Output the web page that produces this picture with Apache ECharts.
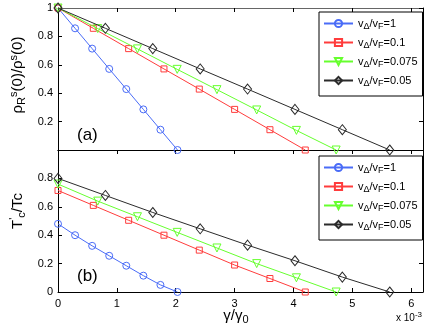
<!DOCTYPE html>
<html>
<head>
<meta charset="utf-8">
<script src="https://cdn.jsdelivr.net/npm/echarts@6/dist/echarts.min.js"></script>
<style>
html, body { margin: 0; padding: 0; background: #fff; }
#chart { width: 443px; height: 333px; }
</style>
</head>
<body>
<div id="chart"></div>
<script>
// v_delta / v_F ratios, one curve each
const ratios = ['1', '0.1', '0.075', '0.05']
const colors = ['#4a6cf7', '#ff3c3c', '#66ff2e', '#2b2b2b']

// gamma/gamma0 positions (units of 1e-3)
const xBlue = [0, 0.29, 0.58, 0.87, 1.16, 1.45, 1.74, 2.03]
const xRed = [0, 0.6, 1.2, 1.8, 2.4, 3.0, 3.6, 4.2]
const xGreen = [0, 0.675, 1.35, 2.025, 2.7, 3.375, 4.05, 4.725]
const xBlack = [0, 0.805, 1.61, 2.415, 3.22, 4.025, 4.83, 5.635]

// panel (a): rho_R^s(0)/rho^s(0)
const rhoBlue = [1, 0.857, 0.714, 0.571, 0.429, 0.286, 0.143, 0]
const rhoRed = [1, 0.857, 0.714, 0.571, 0.429, 0.286, 0.143, 0]
const rhoGreen = [1, 0.855, 0.712, 0.568, 0.425, 0.282, 0.138, 0]
const rhoBlack = [1, 0.857, 0.714, 0.571, 0.429, 0.286, 0.143, 0]

// panel (b): T'c/Tc
const tcBlue = [0.48, 0.40, 0.325, 0.255, 0.185, 0.115, 0.05, 0]
const tcRed = [0.715, 0.61, 0.505, 0.40, 0.295, 0.19, 0.095, 0]
const tcGreen = [0.76, 0.64, 0.53, 0.42, 0.31, 0.20, 0.10, 0]
const tcBlack = [0.80, 0.68, 0.56, 0.445, 0.33, 0.22, 0.105, 0]

const xTicks = [0, 1, 2, 3, 4, 5, 6]

const xs = [xBlue, xRed, xGreen, xBlack]
const rhoYs = [rhoBlue, rhoRed, rhoGreen, rhoBlack]
const tcYs = [tcBlue, tcRed, tcGreen, tcBlack]

const symbols = ['circle', 'rect', 'triangle', 'diamond']
const symbolSizes = [7, 6, 8, [8, 10]]
const symbolRotates = [0, 0, 180, 0]

const FONT = 'Liberation Sans, Arial, sans-serif'

const chart = echarts.init(document.getElementById('chart'))

const seriesName = (r) => 'vΔ/vF=' + r

// build line series for one panel
const makeSeries = (ys, idx) => ratios.map((r, i) => ({
  name: seriesName(r),
  type: 'line',
  xAxisIndex: idx * 2,
  yAxisIndex: idx * 2,
  data: xs[i].map((x, k) => [x, ys[i][k]]),
  symbol: symbols[i],
  symbolSize: symbolSizes[i],
  symbolRotate: symbolRotates[i],
  showAllSymbol: true,
  lineStyle: { color: colors[i], width: 1 },
  itemStyle: { color: 'rgba(255,255,255,0)', borderColor: colors[i], borderWidth: 1 },
  emphasis: { disabled: true },
  z: 3 + i
}))

const legendRich = {
  m: { fontFamily: FONT, fontSize: 11, color: '#000' },
  s: { fontFamily: FONT, fontSize: 9, color: '#000', padding: [6, 0, 0, 0] }
}

const makeLegend = (top) => ({
  orient: 'vertical',
  left: 319,
  top: top,
  padding: [6, 5, 8, 4],
  itemWidth: 29,
  itemHeight: 9,
  itemGap: 6,
  borderColor: '#000',
  borderWidth: 1,
  backgroundColor: '#fff',
  selectedMode: false,
  data: ratios.map(seriesName),
  formatter: (name) => '{m|v}{s|Δ}{m|/v}{s|F}{m|=' + name.split('=')[1] + '}',
  textStyle: { rich: legendRich }
})

const valueAxisBase = {
  type: 'value',
  axisLine: { show: true, lineStyle: { color: '#000', width: 1 } },
  axisTick: { show: true, inside: true, length: 4, lineStyle: { color: '#000' } },
  splitLine: { show: false }
}

const xAxisFor = (gridIndex, position, showLabel, tickShow, lineColor) => ({
  ...valueAxisBase,
  gridIndex,
  position,
  min: 0,
  max: 6.2,
  interval: 1,
  axisLine: { show: true, onZero: false, lineStyle: { color: lineColor, width: 1 } },
  axisTick: { show: tickShow, inside: true, length: 4, lineStyle: { color: '#000' } },
  axisLabel: {
    show: showLabel,
    color: '#000',
    fontFamily: FONT,
    fontSize: 11,
    margin: 6,
    formatter: (v) => (xTicks.includes(v) ? String(v) : '')
  }
})

const yAxisFor = (gridIndex, position, showLabel, hideValue) => ({
  ...valueAxisBase,
  gridIndex,
  position,
  min: 0,
  max: 1,
  interval: 0.2,
  axisLine: { show: true, onZero: false, lineStyle: { color: '#000', width: 1 } },
  axisLabel: {
    show: showLabel,
    color: '#000',
    fontFamily: FONT,
    fontSize: 11,
    margin: 5,
    formatter: (v) => (Math.abs(v - hideValue) < 1e-9 ? '' : String(+v.toFixed(1)))
  }
})

const option = {
  backgroundColor: '#fff',
  animation: false,
  grid: [
    { left: 58, top: 8, width: 365, height: 142 },
    { left: 58, top: 150, width: 365, height: 142 }
  ],
  xAxis: [
    xAxisFor(0, 'bottom', false, false, '#000'),
    xAxisFor(0, 'top', false, true, '#666'),
    xAxisFor(1, 'bottom', true, true, '#000'),
    xAxisFor(1, 'top', false, true, '#000')
  ],
  yAxis: [
    yAxisFor(0, 'left', true, 0),
    yAxisFor(0, 'right', false, 0),
    yAxisFor(1, 'left', true, 1),
    yAxisFor(1, 'right', false, 1)
  ],
  legend: [makeLegend(12), makeLegend(156)],
  series: [...makeSeries(rhoYs, 0), ...makeSeries(tcYs, 1)],
  graphic: [
    {
      type: 'text', left: 77, top: 127,
      style: { text: '(a)', font: '17px ' + FONT, fill: '#000' }
    },
    {
      type: 'text', left: 77, top: 268,
      style: { text: '(b)', font: '17px ' + FONT, fill: '#000' }
    },
    {
      type: 'text', x: 18, y: 75, rotation: Math.PI / 2,
      style: {
        text: '{m|ρ}{s|R}{p|s}{m|(0)/ρ}{p|s}{m|(0)}',
        align: 'center', verticalAlign: 'middle',
        rich: {
          m: { fontFamily: FONT, fontSize: 15, color: '#000' },
          s: { fontFamily: FONT, fontSize: 11, color: '#000', padding: [8, 0, 0, 0] },
          p: { fontFamily: FONT, fontSize: 11, color: '#000', padding: [0, 0, 8, 0] }
        }
      }
    },
    {
      type: 'text', x: 18, y: 211, rotation: Math.PI / 2,
      style: {
        text: "{m|T}{p|'}{s|c}{m|/Tc}",
        align: 'center', verticalAlign: 'middle',
        rich: {
          m: { fontFamily: FONT, fontSize: 15, color: '#000' },
          s: { fontFamily: FONT, fontSize: 11, color: '#000', padding: [8, 0, 0, 0] },
          p: { fontFamily: FONT, fontSize: 11, color: '#000', padding: [0, 0, 8, 0] }
        }
      }
    },
    {
      type: 'text', x: 236, y: 316,
      style: {
        text: '{m|γ/γ}{s|0}',
        align: 'center', verticalAlign: 'middle',
        rich: {
          m: { fontFamily: FONT, fontSize: 15, color: '#000' },
          s: { fontFamily: FONT, fontSize: 11, color: '#000', padding: [8, 0, 0, 0] }
        }
      }
    },
    {
      type: 'text', x: 396, y: 318,
      style: {
        text: '{m|x 10}{p|-3}',
        align: 'left', verticalAlign: 'middle',
        rich: {
          m: { fontFamily: FONT, fontSize: 10, color: '#000' },
          p: { fontFamily: FONT, fontSize: 8, color: '#000', padding: [0, 0, 6, 0] }
        }
      }
    }
  ]
}

chart.setOption(option)
</script>
</body>
</html>
